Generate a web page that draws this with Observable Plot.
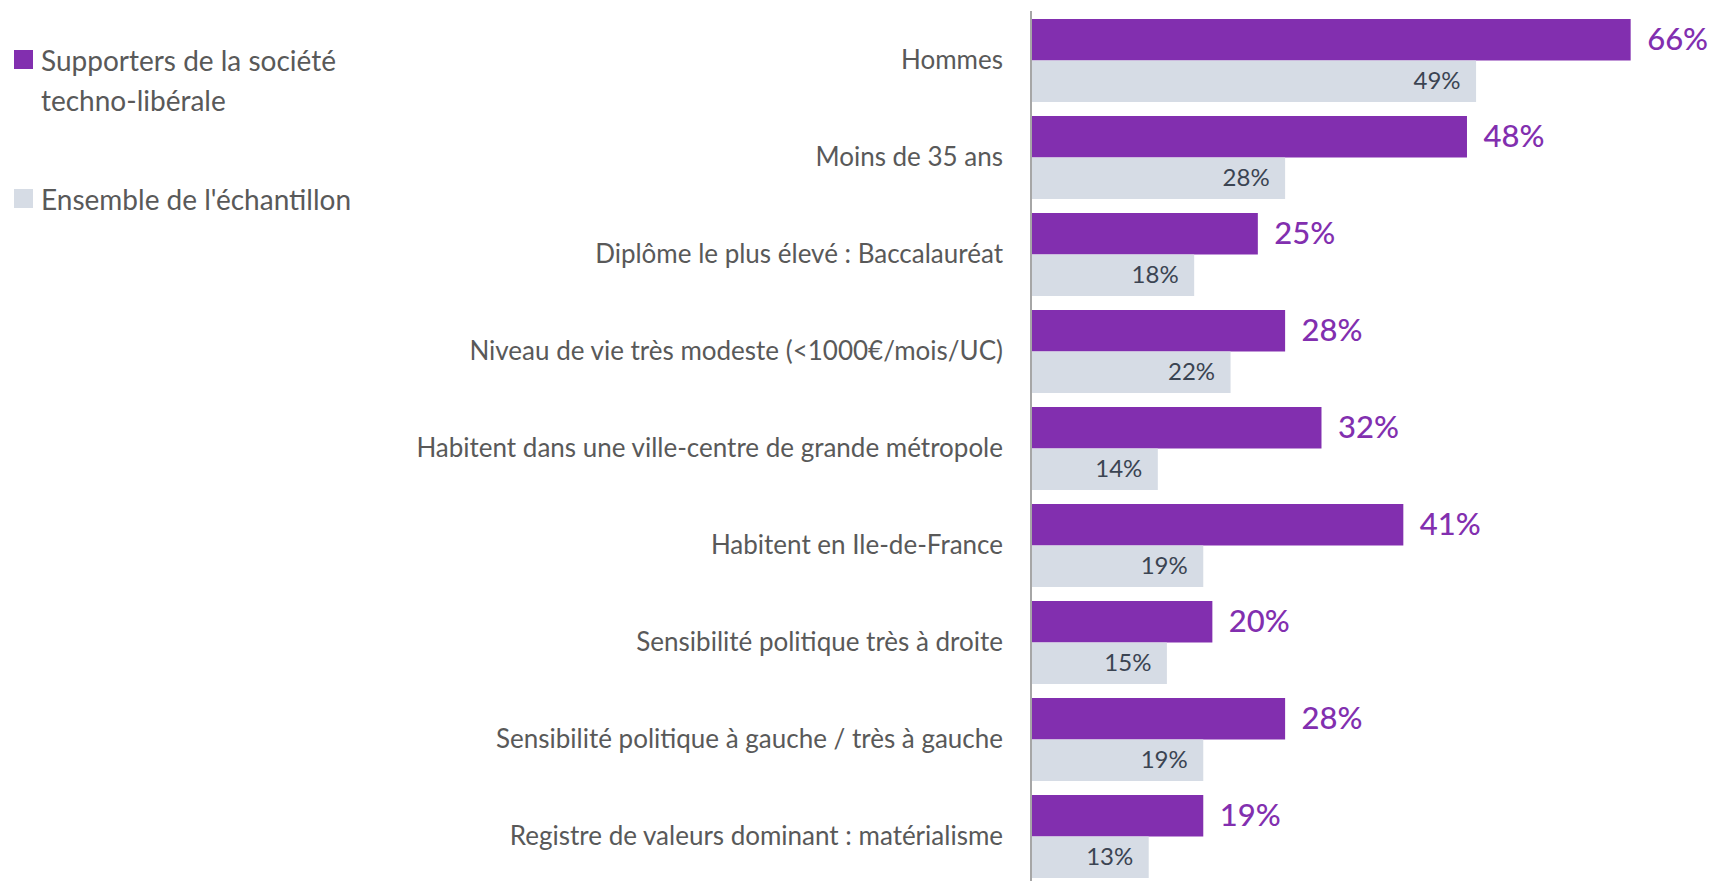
<!DOCTYPE html>
<html>
<head>
<meta charset="utf-8">
<script src="https://cdn.jsdelivr.net/npm/d3@7"></script>
<script src="https://cdn.jsdelivr.net/npm/@observablehq/plot@0.6"></script>
<style>
  html, body { margin: 0; padding: 0; background: #ffffff; }
  #wrap { position: relative; width: 1713px; height: 881px; overflow: hidden; font-family: Lato, "Noto Sans", sans-serif; }
  #legend { position: absolute; left: 0; top: 0; color: #595959; font-size: 28px; }
  .item { position: absolute; left: 0; white-space: nowrap; }
  .sw { position: absolute; left: 14px; width: 19px; height: 19px; }
  .lbl { position: absolute; left: 41px; line-height: 40px; }
</style>
</head>
<body>
<div id="wrap">
  <div id="chart"></div>
  <div id="legend"></div>
</div>
<script>
const categories = [
  "Hommes",
  "Moins de 35 ans",
  "Diplôme le plus élevé : Baccalauréat",
  "Niveau de vie très modeste (<1000€/mois/UC)",
  "Habitent dans une ville-centre de grande métropole",
  "Habitent en Ile-de-France",
  "Sensibilité politique très à droite",
  "Sensibilité politique à gauche / très à gauche",
  "Registre de valeurs dominant : matérialisme"
];
const supporters = [66, 48, 25, 28, 32, 41, 20, 28, 19];
const ensemble = [49, 28, 18, 22, 14, 19, 15, 19, 13];
const seriesNames = ["Supporters de la société techno-libérale", "Ensemble de l'échantillon"];
const seriesColors = ["#822FAF", "#D6DCE5"];

const rowsA = categories.map((c, i) => ({category: c, value: supporters[i]}));
const rowsB = categories.map((c, i) => ({category: c, value: ensemble[i]}));

const W = 1713, H = 881;
const marginTop = 18.6, marginBottom = 1.8;
const pi = 0.146;
const step = (H - marginTop - marginBottom) / (categories.length - pi);
const band = step * (1 - pi);
const half = band / 2;

const chart = Plot.plot({
  width: W,
  height: H,
  marginLeft: 1030.5,
  marginRight: 0.5,
  marginTop,
  marginBottom,
  style: {fontFamily: "Lato, 'Noto Sans', sans-serif", color: "#595959", background: "#ffffff"},
  x: {domain: [0, 75], axis: null},
  y: {domain: categories, type: "band", paddingInner: pi, paddingOuter: 0, label: null},
  marks: [
    Plot.barX(rowsA, {x: "value", y: "category", fill: seriesColors[0], insetBottom: half, insetLeft: 1}),
    Plot.barX(rowsB, {x: "value", y: "category", fill: seriesColors[1], insetTop: half, insetLeft: 1}),
    Plot.ruleX([0], {stroke: "#A6A6A6", strokeWidth: 2, insetTop: -7.5, insetBottom: -2}),
    Plot.axisY({tickSize: 0, tickPadding: 28, fontSize: 26, fill: "#595959", label: null}),
    Plot.text(rowsA, {x: "value", y: "category", text: d => d.value + "%", dy: -half / 2, dx: 16, textAnchor: "start", fontSize: 31, fill: "#822FAF", fontWeight: 500}),
    Plot.text(rowsB, {x: "value", y: "category", text: d => d.value + "%", dy: half / 2, dx: -16, textAnchor: "end", fontSize: 24, fill: "#3B4452"})
  ]
});
document.getElementById("chart").appendChild(chart);

const legend = document.getElementById("legend");
const legendTops = [40, 179];
seriesNames.forEach((name, i) => {
  const item = document.createElement("div");
  item.className = "item";
  item.style.top = legendTops[i] + "px";
  const sw = document.createElement("div");
  sw.className = "sw";
  sw.style.background = seriesColors[i];
  sw.style.top = "10px";
  const lbl = document.createElement("div");
  lbl.className = "lbl";
  lbl.style.top = "0px";
  if (i === 0) {
    lbl.innerHTML = "Supporters de la société<br>techno-libérale";
  } else {
    lbl.textContent = name;
  }
  item.appendChild(sw);
  item.appendChild(lbl);
  legend.appendChild(item);
});
</script>
</body>
</html>
